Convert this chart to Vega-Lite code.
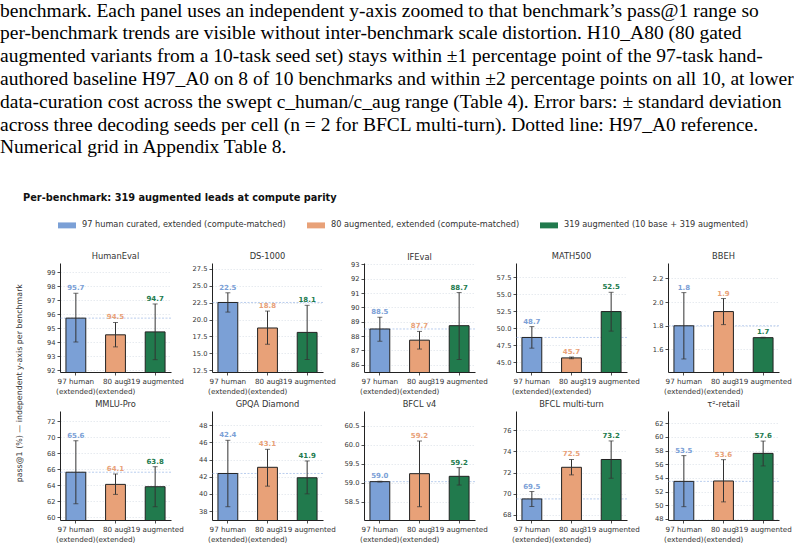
{
"$schema":"https://vega.github.io/schema/vega-lite/v6.json",
"padding":0,
"autosize":{"type":"pad"},
"data":{"values":[
{"bench":"HumanEval","grp":"A","series":"97 human curated, extended  (compute-matched)","value":95.72,"lo":94.02,"hi":97.49},
{"bench":"HumanEval","grp":"B","series":"80 augmented, extended  (compute-matched)","value":94.53,"lo":93.67,"hi":95.41},
{"bench":"HumanEval","grp":"C","series":"319 augmented  (10 base + 319 augmented)","value":94.74,"lo":92.76,"hi":96.73},
{"bench":"DS-1000","grp":"A","series":"97 human curated, extended  (compute-matched)","value":22.52,"lo":21.1,"hi":23.95},
{"bench":"DS-1000","grp":"B","series":"80 augmented, extended  (compute-matched)","value":18.75,"lo":16.35,"hi":21.25},
{"bench":"DS-1000","grp":"C","series":"319 augmented  (10 base + 319 augmented)","value":18.1,"lo":14.1,"hi":22.1},
{"bench":"IFEval","grp":"A","series":"97 human curated, extended  (compute-matched)","value":88.5,"lo":87.65,"hi":89.32},
{"bench":"IFEval","grp":"B","series":"80 augmented, extended  (compute-matched)","value":87.72,"lo":87.1,"hi":88.33},
{"bench":"IFEval","grp":"C","series":"319 augmented  (10 base + 319 augmented)","value":88.73,"lo":86.37,"hi":91.04},
{"bench":"MATH500","grp":"A","series":"97 human curated, extended  (compute-matched)","value":48.67,"lo":47.1,"hi":50.26},
{"bench":"MATH500","grp":"B","series":"80 augmented, extended  (compute-matched)","value":45.67,"lo":45.55,"hi":45.8},
{"bench":"MATH500","grp":"C","series":"319 augmented  (10 base + 319 augmented)","value":52.47,"lo":49.6,"hi":55.3},
{"bench":"BBEH","grp":"A","series":"97 human curated, extended  (compute-matched)","value":1.8,"lo":1.52,"hi":2.08},
{"bench":"BBEH","grp":"B","series":"80 augmented, extended  (compute-matched)","value":1.92,"lo":1.81,"hi":2.03},
{"bench":"BBEH","grp":"C","series":"319 augmented  (10 base + 319 augmented)","value":1.7,"lo":1.697,"hi":1.703},
{"bench":"MMLU-Pro","grp":"A","series":"97 human curated, extended  (compute-matched)","value":65.6,"lo":61.67,"hi":69.54},
{"bench":"MMLU-Pro","grp":"B","series":"80 augmented, extended  (compute-matched)","value":64.08,"lo":62.83,"hi":65.38},
{"bench":"MMLU-Pro","grp":"C","series":"319 augmented  (10 base + 319 augmented)","value":63.79,"lo":61.29,"hi":66.29},
{"bench":"GPQA Diamond","grp":"A","series":"97 human curated, extended  (compute-matched)","value":42.38,"lo":38.5,"hi":46.25},
{"bench":"GPQA Diamond","grp":"B","series":"80 augmented, extended  (compute-matched)","value":43.1,"lo":40.9,"hi":45.2},
{"bench":"GPQA Diamond","grp":"C","series":"319 augmented  (10 base + 319 augmented)","value":41.88,"lo":40.0,"hi":43.84},
{"bench":"BFCL v4","grp":"A","series":"97 human curated, extended  (compute-matched)","value":59.03,"lo":59.02,"hi":59.04},
{"bench":"BFCL v4","grp":"B","series":"80 augmented, extended  (compute-matched)","value":59.24,"lo":58.37,"hi":60.1},
{"bench":"BFCL v4","grp":"C","series":"319 augmented  (10 base + 319 augmented)","value":59.17,"lo":58.94,"hi":59.4},
{"bench":"BFCL multi-turn","grp":"A","series":"97 human curated, extended  (compute-matched)","value":69.5,"lo":68.78,"hi":70.2},
{"bench":"BFCL multi-turn","grp":"B","series":"80 augmented, extended  (compute-matched)","value":72.5,"lo":71.78,"hi":73.24},
{"bench":"BFCL multi-turn","grp":"C","series":"319 augmented  (10 base + 319 augmented)","value":73.24,"lo":71.46,"hi":75.0},
{"bench":"τ²-retail","grp":"A","series":"97 human curated, extended  (compute-matched)","value":53.5,"lo":49.8,"hi":57.27},
{"bench":"τ²-retail","grp":"B","series":"80 augmented, extended  (compute-matched)","value":53.56,"lo":50.5,"hi":56.68},
{"bench":"τ²-retail","grp":"C","series":"319 augmented  (10 base + 319 augmented)","value":57.6,"lo":55.76,"hi":59.4}
]},
"title":{"text":["benchmark. Each panel uses an independent y-axis zoomed to that benchmark’s pass@1 range so","per-benchmark trends are visible without inter-benchmark scale distortion.  H10_A80 (80 gated","augmented variants from a 10-task seed set) stays within ±1 percentage point of the 97-task hand-","authored baseline H97_A0 on 8 of 10 benchmarks and within ±2 percentage points on all 10, at lower","data-curation cost across the swept c_human/c_aug range (Table 4).  Error bars: ± standard deviation","across three decoding seeds per cell (n = 2 for BFCL multi-turn). Dotted line: H97_A0 reference.","Numerical grid in Appendix Table 8."],"anchor":"start","frame":"group","dx":-60,"font":"Liberation Serif","fontSize":19.5,"fontWeight":"normal","lineHeight":22.8,"color":"#000000","offset":35},
"bounds":"flush",
"vconcat":[{
"title":{"text":"Per-benchmark: 319 augmented leads at compute parity","anchor":"start","frame":"group","dx":-37,"font":"DejaVu Sans","fontSize":9.8,"fontWeight":"bold","color":"#111111","offset":49},
"bounds":"flush",
"vconcat":[{
"title":{"text":"pass@1 (%) — independent y-axis per benchmark","orient":"left","anchor":"middle","dx":14,"font":"DejaVu Sans","fontSize":7.9,"fontWeight":"normal","color":"#333333","offset":23},
"columns":5,
"spacing":{"row":39,"column":41},
"bounds":"flush",
"concat":[
{"width":111,"height":109,"title":"HumanEval","transform":[{"filter":{"field":"bench","equal":"HumanEval"}}],
"layer":[
{"transform":[{"filter":{"field":"grp","equal":"A"}}],"mark":{"type":"rule","color":"#a8c2ea","strokeDash":[2,1.5],"strokeWidth":0.8},"encoding":{"y":{"field":"value","type":"quantitative","title":null,"scale":{"domain":[91.88,99.65],"nice":false,"zero":false},"axis":{"values":[92,93,94,95,96,97,98,99],"labelOverlap":false}}}},
{"mark":{"type":"bar","stroke":"#222222","strokeWidth":1,"clip":true},"encoding":{"x":{"field":"grp","type":"nominal","title":null,"scale":{"paddingInner":0.5,"paddingOuter":0.15},"axis":{"labelExpr":"datum.value == 'A' ? ['97 human', '(extended)'] : datum.value == 'B' ? ['80 aug', '(extended)'] : '319 augmented'"}},"y":{"field":"value","type":"quantitative","title":null,"scale":{"domain":[91.88,99.65],"nice":false,"zero":false},"axis":{"values":[92,93,94,95,96,97,98,99],"labelOverlap":false}},"color":{"field":"series","type":"nominal","title":null,"sort":["97 human curated, extended  (compute-matched)","80 augmented, extended  (compute-matched)","319 augmented  (10 base + 319 augmented)"],"scale":{"range":["#7ba0d6","#e8a178","#217a4d"]}}}},
{"mark":{"type":"errorbar","ticks":{"size":5},"color":"#333333"},"encoding":{"x":{"field":"grp","type":"nominal","title":null,"scale":{"paddingInner":0.5,"paddingOuter":0.15}},"y":{"field":"lo","type":"quantitative","title":null,"scale":{"domain":[91.88,99.65],"nice":false,"zero":false},"axis":{"values":[92,93,94,95,96,97,98,99],"labelOverlap":false}},"y2":{"field":"hi"}}},
{"mark":{"type":"text","baseline":"bottom","dy":-2,"fontWeight":"bold","fontSize":7},"encoding":{"x":{"field":"grp","type":"nominal","title":null,"scale":{"paddingInner":0.5,"paddingOuter":0.15}},"y":{"field":"hi","type":"quantitative","title":null,"scale":{"domain":[91.88,99.65],"nice":false,"zero":false},"axis":{"values":[92,93,94,95,96,97,98,99],"labelOverlap":false}},"text":{"field":"value","type":"quantitative","format":".1f"},"color":{"field":"series","type":"nominal","title":null,"sort":["97 human curated, extended  (compute-matched)","80 augmented, extended  (compute-matched)","319 augmented  (10 base + 319 augmented)"],"scale":{"range":["#7ba0d6","#e8a178","#217a4d"]}}}}
]},
{"width":111,"height":109,"title":"DS-1000","transform":[{"filter":{"field":"bench","equal":"DS-1000"}}],
"layer":[
{"transform":[{"filter":{"field":"grp","equal":"A"}}],"mark":{"type":"rule","color":"#a8c2ea","strokeDash":[2,1.5],"strokeWidth":0.8},"encoding":{"y":{"field":"value","type":"quantitative","title":null,"scale":{"domain":[12.25,28.35],"nice":false,"zero":false},"axis":{"values":[12.5,15,17.5,20,22.5,25,27.5],"format":".1f","labelOverlap":false}}}},
{"mark":{"type":"bar","stroke":"#222222","strokeWidth":1,"clip":true},"encoding":{"x":{"field":"grp","type":"nominal","title":null,"scale":{"paddingInner":0.5,"paddingOuter":0.15},"axis":{"labelExpr":"datum.value == 'A' ? ['97 human', '(extended)'] : datum.value == 'B' ? ['80 aug', '(extended)'] : '319 augmented'"}},"y":{"field":"value","type":"quantitative","title":null,"scale":{"domain":[12.25,28.35],"nice":false,"zero":false},"axis":{"values":[12.5,15,17.5,20,22.5,25,27.5],"format":".1f","labelOverlap":false}},"color":{"field":"series","type":"nominal","title":null,"sort":["97 human curated, extended  (compute-matched)","80 augmented, extended  (compute-matched)","319 augmented  (10 base + 319 augmented)"],"scale":{"range":["#7ba0d6","#e8a178","#217a4d"]}}}},
{"mark":{"type":"errorbar","ticks":{"size":5},"color":"#333333"},"encoding":{"x":{"field":"grp","type":"nominal","title":null,"scale":{"paddingInner":0.5,"paddingOuter":0.15}},"y":{"field":"lo","type":"quantitative","title":null,"scale":{"domain":[12.25,28.35],"nice":false,"zero":false},"axis":{"values":[12.5,15,17.5,20,22.5,25,27.5],"format":".1f","labelOverlap":false}},"y2":{"field":"hi"}}},
{"mark":{"type":"text","baseline":"bottom","dy":-2,"fontWeight":"bold","fontSize":7},"encoding":{"x":{"field":"grp","type":"nominal","title":null,"scale":{"paddingInner":0.5,"paddingOuter":0.15}},"y":{"field":"hi","type":"quantitative","title":null,"scale":{"domain":[12.25,28.35],"nice":false,"zero":false},"axis":{"values":[12.5,15,17.5,20,22.5,25,27.5],"format":".1f","labelOverlap":false}},"text":{"field":"value","type":"quantitative","format":".1f"},"color":{"field":"series","type":"nominal","title":null,"sort":["97 human curated, extended  (compute-matched)","80 augmented, extended  (compute-matched)","319 augmented  (10 base + 319 augmented)"],"scale":{"range":["#7ba0d6","#e8a178","#217a4d"]}}}}
]},
{"width":111,"height":109,"title":{"text":"IFEval","offset":0},"transform":[{"filter":{"field":"bench","equal":"IFEval"}}],
"layer":[
{"transform":[{"filter":{"field":"grp","equal":"A"}}],"mark":{"type":"rule","color":"#a8c2ea","strokeDash":[2,1.5],"strokeWidth":0.8},"encoding":{"y":{"field":"value","type":"quantitative","title":null,"scale":{"domain":[85.5,93.1],"nice":false,"zero":false},"axis":{"values":[86,87,88,89,90,91,92,93],"labelOverlap":false}}}},
{"mark":{"type":"bar","stroke":"#222222","strokeWidth":1,"clip":true},"encoding":{"x":{"field":"grp","type":"nominal","title":null,"scale":{"paddingInner":0.5,"paddingOuter":0.15},"axis":{"labelExpr":"datum.value == 'A' ? ['97 human', '(extended)'] : datum.value == 'B' ? ['80 aug', '(extended)'] : '319 augmented'"}},"y":{"field":"value","type":"quantitative","title":null,"scale":{"domain":[85.5,93.1],"nice":false,"zero":false},"axis":{"values":[86,87,88,89,90,91,92,93],"labelOverlap":false}},"color":{"field":"series","type":"nominal","title":null,"sort":["97 human curated, extended  (compute-matched)","80 augmented, extended  (compute-matched)","319 augmented  (10 base + 319 augmented)"],"scale":{"range":["#7ba0d6","#e8a178","#217a4d"]}}}},
{"mark":{"type":"errorbar","ticks":{"size":5},"color":"#333333"},"encoding":{"x":{"field":"grp","type":"nominal","title":null,"scale":{"paddingInner":0.5,"paddingOuter":0.15}},"y":{"field":"lo","type":"quantitative","title":null,"scale":{"domain":[85.5,93.1],"nice":false,"zero":false},"axis":{"values":[86,87,88,89,90,91,92,93],"labelOverlap":false}},"y2":{"field":"hi"}}},
{"mark":{"type":"text","baseline":"bottom","dy":-2,"fontWeight":"bold","fontSize":7},"encoding":{"x":{"field":"grp","type":"nominal","title":null,"scale":{"paddingInner":0.5,"paddingOuter":0.15}},"y":{"field":"hi","type":"quantitative","title":null,"scale":{"domain":[85.5,93.1],"nice":false,"zero":false},"axis":{"values":[86,87,88,89,90,91,92,93],"labelOverlap":false}},"text":{"field":"value","type":"quantitative","format":".1f"},"color":{"field":"series","type":"nominal","title":null,"sort":["97 human curated, extended  (compute-matched)","80 augmented, extended  (compute-matched)","319 augmented  (10 base + 319 augmented)"],"scale":{"range":["#7ba0d6","#e8a178","#217a4d"]}}}}
]},
{"width":111,"height":109,"title":"MATH500","transform":[{"filter":{"field":"bench","equal":"MATH500"}}],
"layer":[
{"transform":[{"filter":{"field":"grp","equal":"A"}}],"mark":{"type":"rule","color":"#a8c2ea","strokeDash":[2,1.5],"strokeWidth":0.8},"encoding":{"y":{"field":"value","type":"quantitative","title":null,"scale":{"domain":[43.6,59.6],"nice":false,"zero":false},"axis":{"values":[45,47.5,50,52.5,55,57.5],"format":".1f","labelOverlap":false}}}},
{"mark":{"type":"bar","stroke":"#222222","strokeWidth":1,"clip":true},"encoding":{"x":{"field":"grp","type":"nominal","title":null,"scale":{"paddingInner":0.5,"paddingOuter":0.15},"axis":{"labelExpr":"datum.value == 'A' ? ['97 human', '(extended)'] : datum.value == 'B' ? ['80 aug', '(extended)'] : '319 augmented'"}},"y":{"field":"value","type":"quantitative","title":null,"scale":{"domain":[43.6,59.6],"nice":false,"zero":false},"axis":{"values":[45,47.5,50,52.5,55,57.5],"format":".1f","labelOverlap":false}},"color":{"field":"series","type":"nominal","title":null,"sort":["97 human curated, extended  (compute-matched)","80 augmented, extended  (compute-matched)","319 augmented  (10 base + 319 augmented)"],"scale":{"range":["#7ba0d6","#e8a178","#217a4d"]}}}},
{"mark":{"type":"errorbar","ticks":{"size":5},"color":"#333333"},"encoding":{"x":{"field":"grp","type":"nominal","title":null,"scale":{"paddingInner":0.5,"paddingOuter":0.15}},"y":{"field":"lo","type":"quantitative","title":null,"scale":{"domain":[43.6,59.6],"nice":false,"zero":false},"axis":{"values":[45,47.5,50,52.5,55,57.5],"format":".1f","labelOverlap":false}},"y2":{"field":"hi"}}},
{"mark":{"type":"text","baseline":"bottom","dy":-2,"fontWeight":"bold","fontSize":7},"encoding":{"x":{"field":"grp","type":"nominal","title":null,"scale":{"paddingInner":0.5,"paddingOuter":0.15}},"y":{"field":"hi","type":"quantitative","title":null,"scale":{"domain":[43.6,59.6],"nice":false,"zero":false},"axis":{"values":[45,47.5,50,52.5,55,57.5],"format":".1f","labelOverlap":false}},"text":{"field":"value","type":"quantitative","format":".1f"},"color":{"field":"series","type":"nominal","title":null,"sort":["97 human curated, extended  (compute-matched)","80 augmented, extended  (compute-matched)","319 augmented  (10 base + 319 augmented)"],"scale":{"range":["#7ba0d6","#e8a178","#217a4d"]}}}}
]},
{"width":111,"height":109,"title":"BBEH","transform":[{"filter":{"field":"bench","equal":"BBEH"}}],
"layer":[
{"transform":[{"filter":{"field":"grp","equal":"A"}}],"mark":{"type":"rule","color":"#a8c2ea","strokeDash":[2,1.5],"strokeWidth":0.8},"encoding":{"y":{"field":"value","type":"quantitative","title":null,"scale":{"domain":[1.41,2.33],"nice":false,"zero":false},"axis":{"values":[1.6,1.8,2.0,2.2],"format":".1f","labelOverlap":false}}}},
{"mark":{"type":"bar","stroke":"#222222","strokeWidth":1,"clip":true},"encoding":{"x":{"field":"grp","type":"nominal","title":null,"scale":{"paddingInner":0.5,"paddingOuter":0.15},"axis":{"labelExpr":"datum.value == 'A' ? ['97 human', '(extended)'] : datum.value == 'B' ? ['80 aug', '(extended)'] : '319 augmented'"}},"y":{"field":"value","type":"quantitative","title":null,"scale":{"domain":[1.41,2.33],"nice":false,"zero":false},"axis":{"values":[1.6,1.8,2.0,2.2],"format":".1f","labelOverlap":false}},"color":{"field":"series","type":"nominal","title":null,"sort":["97 human curated, extended  (compute-matched)","80 augmented, extended  (compute-matched)","319 augmented  (10 base + 319 augmented)"],"scale":{"range":["#7ba0d6","#e8a178","#217a4d"]}}}},
{"mark":{"type":"errorbar","ticks":{"size":5},"color":"#333333"},"encoding":{"x":{"field":"grp","type":"nominal","title":null,"scale":{"paddingInner":0.5,"paddingOuter":0.15}},"y":{"field":"lo","type":"quantitative","title":null,"scale":{"domain":[1.41,2.33],"nice":false,"zero":false},"axis":{"values":[1.6,1.8,2.0,2.2],"format":".1f","labelOverlap":false}},"y2":{"field":"hi"}}},
{"mark":{"type":"text","baseline":"bottom","dy":-2,"fontWeight":"bold","fontSize":7},"encoding":{"x":{"field":"grp","type":"nominal","title":null,"scale":{"paddingInner":0.5,"paddingOuter":0.15}},"y":{"field":"hi","type":"quantitative","title":null,"scale":{"domain":[1.41,2.33],"nice":false,"zero":false},"axis":{"values":[1.6,1.8,2.0,2.2],"format":".1f","labelOverlap":false}},"text":{"field":"value","type":"quantitative","format":".1f"},"color":{"field":"series","type":"nominal","title":null,"sort":["97 human curated, extended  (compute-matched)","80 augmented, extended  (compute-matched)","319 augmented  (10 base + 319 augmented)"],"scale":{"range":["#7ba0d6","#e8a178","#217a4d"]}}}}
]},
{"width":111,"height":109,"title":"MMLU-Pro","transform":[{"filter":{"field":"bench","equal":"MMLU-Pro"}}],
"layer":[
{"transform":[{"filter":{"field":"grp","equal":"A"}}],"mark":{"type":"rule","color":"#a8c2ea","strokeDash":[2,1.5],"strokeWidth":0.8},"encoding":{"y":{"field":"value","type":"quantitative","title":null,"scale":{"domain":[59.63,73.25],"nice":false,"zero":false},"axis":{"values":[60,62,64,66,68,70,72],"labelOverlap":false}}}},
{"mark":{"type":"bar","stroke":"#222222","strokeWidth":1,"clip":true},"encoding":{"x":{"field":"grp","type":"nominal","title":null,"scale":{"paddingInner":0.5,"paddingOuter":0.15},"axis":{"labelExpr":"datum.value == 'A' ? ['97 human', '(extended)'] : datum.value == 'B' ? ['80 aug', '(extended)'] : '319 augmented'"}},"y":{"field":"value","type":"quantitative","title":null,"scale":{"domain":[59.63,73.25],"nice":false,"zero":false},"axis":{"values":[60,62,64,66,68,70,72],"labelOverlap":false}},"color":{"field":"series","type":"nominal","title":null,"sort":["97 human curated, extended  (compute-matched)","80 augmented, extended  (compute-matched)","319 augmented  (10 base + 319 augmented)"],"scale":{"range":["#7ba0d6","#e8a178","#217a4d"]}}}},
{"mark":{"type":"errorbar","ticks":{"size":5},"color":"#333333"},"encoding":{"x":{"field":"grp","type":"nominal","title":null,"scale":{"paddingInner":0.5,"paddingOuter":0.15}},"y":{"field":"lo","type":"quantitative","title":null,"scale":{"domain":[59.63,73.25],"nice":false,"zero":false},"axis":{"values":[60,62,64,66,68,70,72],"labelOverlap":false}},"y2":{"field":"hi"}}},
{"mark":{"type":"text","baseline":"bottom","dy":-2,"fontWeight":"bold","fontSize":7},"encoding":{"x":{"field":"grp","type":"nominal","title":null,"scale":{"paddingInner":0.5,"paddingOuter":0.15}},"y":{"field":"hi","type":"quantitative","title":null,"scale":{"domain":[59.63,73.25],"nice":false,"zero":false},"axis":{"values":[60,62,64,66,68,70,72],"labelOverlap":false}},"text":{"field":"value","type":"quantitative","format":".1f"},"color":{"field":"series","type":"nominal","title":null,"sort":["97 human curated, extended  (compute-matched)","80 augmented, extended  (compute-matched)","319 augmented  (10 base + 319 augmented)"],"scale":{"range":["#7ba0d6","#e8a178","#217a4d"]}}}}
]},
{"width":111,"height":109,"title":"GPQA Diamond","transform":[{"filter":{"field":"bench","equal":"GPQA Diamond"}}],
"layer":[
{"transform":[{"filter":{"field":"grp","equal":"A"}}],"mark":{"type":"rule","color":"#a8c2ea","strokeDash":[2,1.5],"strokeWidth":0.8},"encoding":{"y":{"field":"value","type":"quantitative","title":null,"scale":{"domain":[36.95,49.67],"nice":false,"zero":false},"axis":{"values":[38,40,42,44,46,48],"labelOverlap":false}}}},
{"mark":{"type":"bar","stroke":"#222222","strokeWidth":1,"clip":true},"encoding":{"x":{"field":"grp","type":"nominal","title":null,"scale":{"paddingInner":0.5,"paddingOuter":0.15},"axis":{"labelExpr":"datum.value == 'A' ? ['97 human', '(extended)'] : datum.value == 'B' ? ['80 aug', '(extended)'] : '319 augmented'"}},"y":{"field":"value","type":"quantitative","title":null,"scale":{"domain":[36.95,49.67],"nice":false,"zero":false},"axis":{"values":[38,40,42,44,46,48],"labelOverlap":false}},"color":{"field":"series","type":"nominal","title":null,"sort":["97 human curated, extended  (compute-matched)","80 augmented, extended  (compute-matched)","319 augmented  (10 base + 319 augmented)"],"scale":{"range":["#7ba0d6","#e8a178","#217a4d"]}}}},
{"mark":{"type":"errorbar","ticks":{"size":5},"color":"#333333"},"encoding":{"x":{"field":"grp","type":"nominal","title":null,"scale":{"paddingInner":0.5,"paddingOuter":0.15}},"y":{"field":"lo","type":"quantitative","title":null,"scale":{"domain":[36.95,49.67],"nice":false,"zero":false},"axis":{"values":[38,40,42,44,46,48],"labelOverlap":false}},"y2":{"field":"hi"}}},
{"mark":{"type":"text","baseline":"bottom","dy":-2,"fontWeight":"bold","fontSize":7},"encoding":{"x":{"field":"grp","type":"nominal","title":null,"scale":{"paddingInner":0.5,"paddingOuter":0.15}},"y":{"field":"hi","type":"quantitative","title":null,"scale":{"domain":[36.95,49.67],"nice":false,"zero":false},"axis":{"values":[38,40,42,44,46,48],"labelOverlap":false}},"text":{"field":"value","type":"quantitative","format":".1f"},"color":{"field":"series","type":"nominal","title":null,"sort":["97 human curated, extended  (compute-matched)","80 augmented, extended  (compute-matched)","319 augmented  (10 base + 319 augmented)"],"scale":{"range":["#7ba0d6","#e8a178","#217a4d"]}}}}
]},
{"width":111,"height":109,"title":"BFCL v4","transform":[{"filter":{"field":"bench","equal":"BFCL v4"}}],
"layer":[
{"transform":[{"filter":{"field":"grp","equal":"A"}}],"mark":{"type":"rule","color":"#a8c2ea","strokeDash":[2,1.5],"strokeWidth":0.8},"encoding":{"y":{"field":"value","type":"quantitative","title":null,"scale":{"domain":[58.02,60.89],"nice":false,"zero":false},"axis":{"values":[58.5,59,59.5,60,60.5],"format":".1f","labelOverlap":false}}}},
{"mark":{"type":"bar","stroke":"#222222","strokeWidth":1,"clip":true},"encoding":{"x":{"field":"grp","type":"nominal","title":null,"scale":{"paddingInner":0.5,"paddingOuter":0.15},"axis":{"labelExpr":"datum.value == 'A' ? ['97 human', '(extended)'] : datum.value == 'B' ? ['80 aug', '(extended)'] : '319 augmented'"}},"y":{"field":"value","type":"quantitative","title":null,"scale":{"domain":[58.02,60.89],"nice":false,"zero":false},"axis":{"values":[58.5,59,59.5,60,60.5],"format":".1f","labelOverlap":false}},"color":{"field":"series","type":"nominal","title":null,"sort":["97 human curated, extended  (compute-matched)","80 augmented, extended  (compute-matched)","319 augmented  (10 base + 319 augmented)"],"scale":{"range":["#7ba0d6","#e8a178","#217a4d"]}}}},
{"mark":{"type":"errorbar","ticks":{"size":5},"color":"#333333"},"encoding":{"x":{"field":"grp","type":"nominal","title":null,"scale":{"paddingInner":0.5,"paddingOuter":0.15}},"y":{"field":"lo","type":"quantitative","title":null,"scale":{"domain":[58.02,60.89],"nice":false,"zero":false},"axis":{"values":[58.5,59,59.5,60,60.5],"format":".1f","labelOverlap":false}},"y2":{"field":"hi"}}},
{"mark":{"type":"text","baseline":"bottom","dy":-2,"fontWeight":"bold","fontSize":7},"encoding":{"x":{"field":"grp","type":"nominal","title":null,"scale":{"paddingInner":0.5,"paddingOuter":0.15}},"y":{"field":"hi","type":"quantitative","title":null,"scale":{"domain":[58.02,60.89],"nice":false,"zero":false},"axis":{"values":[58.5,59,59.5,60,60.5],"format":".1f","labelOverlap":false}},"text":{"field":"value","type":"quantitative","format":".1f"},"color":{"field":"series","type":"nominal","title":null,"sort":["97 human curated, extended  (compute-matched)","80 augmented, extended  (compute-matched)","319 augmented  (10 base + 319 augmented)"],"scale":{"range":["#7ba0d6","#e8a178","#217a4d"]}}}}
]},
{"width":111,"height":109,"title":"BFCL multi-turn","transform":[{"filter":{"field":"bench","equal":"BFCL multi-turn"}}],
"layer":[
{"transform":[{"filter":{"field":"grp","equal":"A"}}],"mark":{"type":"rule","color":"#a8c2ea","strokeDash":[2,1.5],"strokeWidth":0.8},"encoding":{"y":{"field":"value","type":"quantitative","title":null,"scale":{"domain":[67.5,77.84],"nice":false,"zero":false},"axis":{"values":[68,70,72,74,76],"labelOverlap":false}}}},
{"mark":{"type":"bar","stroke":"#222222","strokeWidth":1,"clip":true},"encoding":{"x":{"field":"grp","type":"nominal","title":null,"scale":{"paddingInner":0.5,"paddingOuter":0.15},"axis":{"labelExpr":"datum.value == 'A' ? ['97 human', '(extended)'] : datum.value == 'B' ? ['80 aug', '(extended)'] : '319 augmented'"}},"y":{"field":"value","type":"quantitative","title":null,"scale":{"domain":[67.5,77.84],"nice":false,"zero":false},"axis":{"values":[68,70,72,74,76],"labelOverlap":false}},"color":{"field":"series","type":"nominal","title":null,"sort":["97 human curated, extended  (compute-matched)","80 augmented, extended  (compute-matched)","319 augmented  (10 base + 319 augmented)"],"scale":{"range":["#7ba0d6","#e8a178","#217a4d"]}}}},
{"mark":{"type":"errorbar","ticks":{"size":5},"color":"#333333"},"encoding":{"x":{"field":"grp","type":"nominal","title":null,"scale":{"paddingInner":0.5,"paddingOuter":0.15}},"y":{"field":"lo","type":"quantitative","title":null,"scale":{"domain":[67.5,77.84],"nice":false,"zero":false},"axis":{"values":[68,70,72,74,76],"labelOverlap":false}},"y2":{"field":"hi"}}},
{"mark":{"type":"text","baseline":"bottom","dy":-2,"fontWeight":"bold","fontSize":7},"encoding":{"x":{"field":"grp","type":"nominal","title":null,"scale":{"paddingInner":0.5,"paddingOuter":0.15}},"y":{"field":"hi","type":"quantitative","title":null,"scale":{"domain":[67.5,77.84],"nice":false,"zero":false},"axis":{"values":[68,70,72,74,76],"labelOverlap":false}},"text":{"field":"value","type":"quantitative","format":".1f"},"color":{"field":"series","type":"nominal","title":null,"sort":["97 human curated, extended  (compute-matched)","80 augmented, extended  (compute-matched)","319 augmented  (10 base + 319 augmented)"],"scale":{"range":["#7ba0d6","#e8a178","#217a4d"]}}}}
]},
{"width":111,"height":109,"title":"τ²-retail","transform":[{"filter":{"field":"bench","equal":"τ²-retail"}}],
"layer":[
{"transform":[{"filter":{"field":"grp","equal":"A"}}],"mark":{"type":"rule","color":"#a8c2ea","strokeDash":[2,1.5],"strokeWidth":0.8},"encoding":{"y":{"field":"value","type":"quantitative","title":null,"scale":{"domain":[47.85,63.8],"nice":false,"zero":false},"axis":{"values":[48,50,52,54,56,58,60,62],"labelOverlap":false}}}},
{"mark":{"type":"bar","stroke":"#222222","strokeWidth":1,"clip":true},"encoding":{"x":{"field":"grp","type":"nominal","title":null,"scale":{"paddingInner":0.5,"paddingOuter":0.15},"axis":{"labelExpr":"datum.value == 'A' ? ['97 human', '(extended)'] : datum.value == 'B' ? ['80 aug', '(extended)'] : '319 augmented'"}},"y":{"field":"value","type":"quantitative","title":null,"scale":{"domain":[47.85,63.8],"nice":false,"zero":false},"axis":{"values":[48,50,52,54,56,58,60,62],"labelOverlap":false}},"color":{"field":"series","type":"nominal","title":null,"sort":["97 human curated, extended  (compute-matched)","80 augmented, extended  (compute-matched)","319 augmented  (10 base + 319 augmented)"],"scale":{"range":["#7ba0d6","#e8a178","#217a4d"]}}}},
{"mark":{"type":"errorbar","ticks":{"size":5},"color":"#333333"},"encoding":{"x":{"field":"grp","type":"nominal","title":null,"scale":{"paddingInner":0.5,"paddingOuter":0.15}},"y":{"field":"lo","type":"quantitative","title":null,"scale":{"domain":[47.85,63.8],"nice":false,"zero":false},"axis":{"values":[48,50,52,54,56,58,60,62],"labelOverlap":false}},"y2":{"field":"hi"}}},
{"mark":{"type":"text","baseline":"bottom","dy":-2,"fontWeight":"bold","fontSize":7},"encoding":{"x":{"field":"grp","type":"nominal","title":null,"scale":{"paddingInner":0.5,"paddingOuter":0.15}},"y":{"field":"hi","type":"quantitative","title":null,"scale":{"domain":[47.85,63.8],"nice":false,"zero":false},"axis":{"values":[48,50,52,54,56,58,60,62],"labelOverlap":false}},"text":{"field":"value","type":"quantitative","format":".1f"},"color":{"field":"series","type":"nominal","title":null,"sort":["97 human curated, extended  (compute-matched)","80 augmented, extended  (compute-matched)","319 augmented  (10 base + 319 augmented)"],"scale":{"range":["#7ba0d6","#e8a178","#217a4d"]}}}}
]}
]}]}],
"config":{
"font":"DejaVu Sans",
"view":{"stroke":null},
"title":{"font":"DejaVu Sans","fontSize":8.3,"fontWeight":"normal","color":"#333333","offset":3},
"axis":{"labelFont":"DejaVu Sans","labelFontSize":7.2,"labelColor":"#333333","domainColor":"#222222","domainWidth":1,"tickColor":"#222222","tickSize":3,"tickWidth":0.8,"labelPadding":2,"labelOverlap":false},
"axisX":{"grid":false,"labelAngle":0,"labelFontSize":7.2,"labelLineHeight":10.5},
"axisY":{"grid":true,"gridColor":"#dde3ea","gridDash":[1.5,1.5],"gridWidth":0.7,"labelFontSize":6.7},
"legend":{"orient":"none","legendX":-2,"legendY":-47,"direction":"horizontal","symbolType":"M-1,-0.33H1V0.33H-1Z","symbolSize":324,"symbolStrokeWidth":0,"symbolOpacity":1,"labelFont":"DejaVu Sans","labelFontSize":8.2,"labelColor":"#333333","columnPadding":18,"labelOffset":6,"padding":0,"labelLimit":0}
}
}
